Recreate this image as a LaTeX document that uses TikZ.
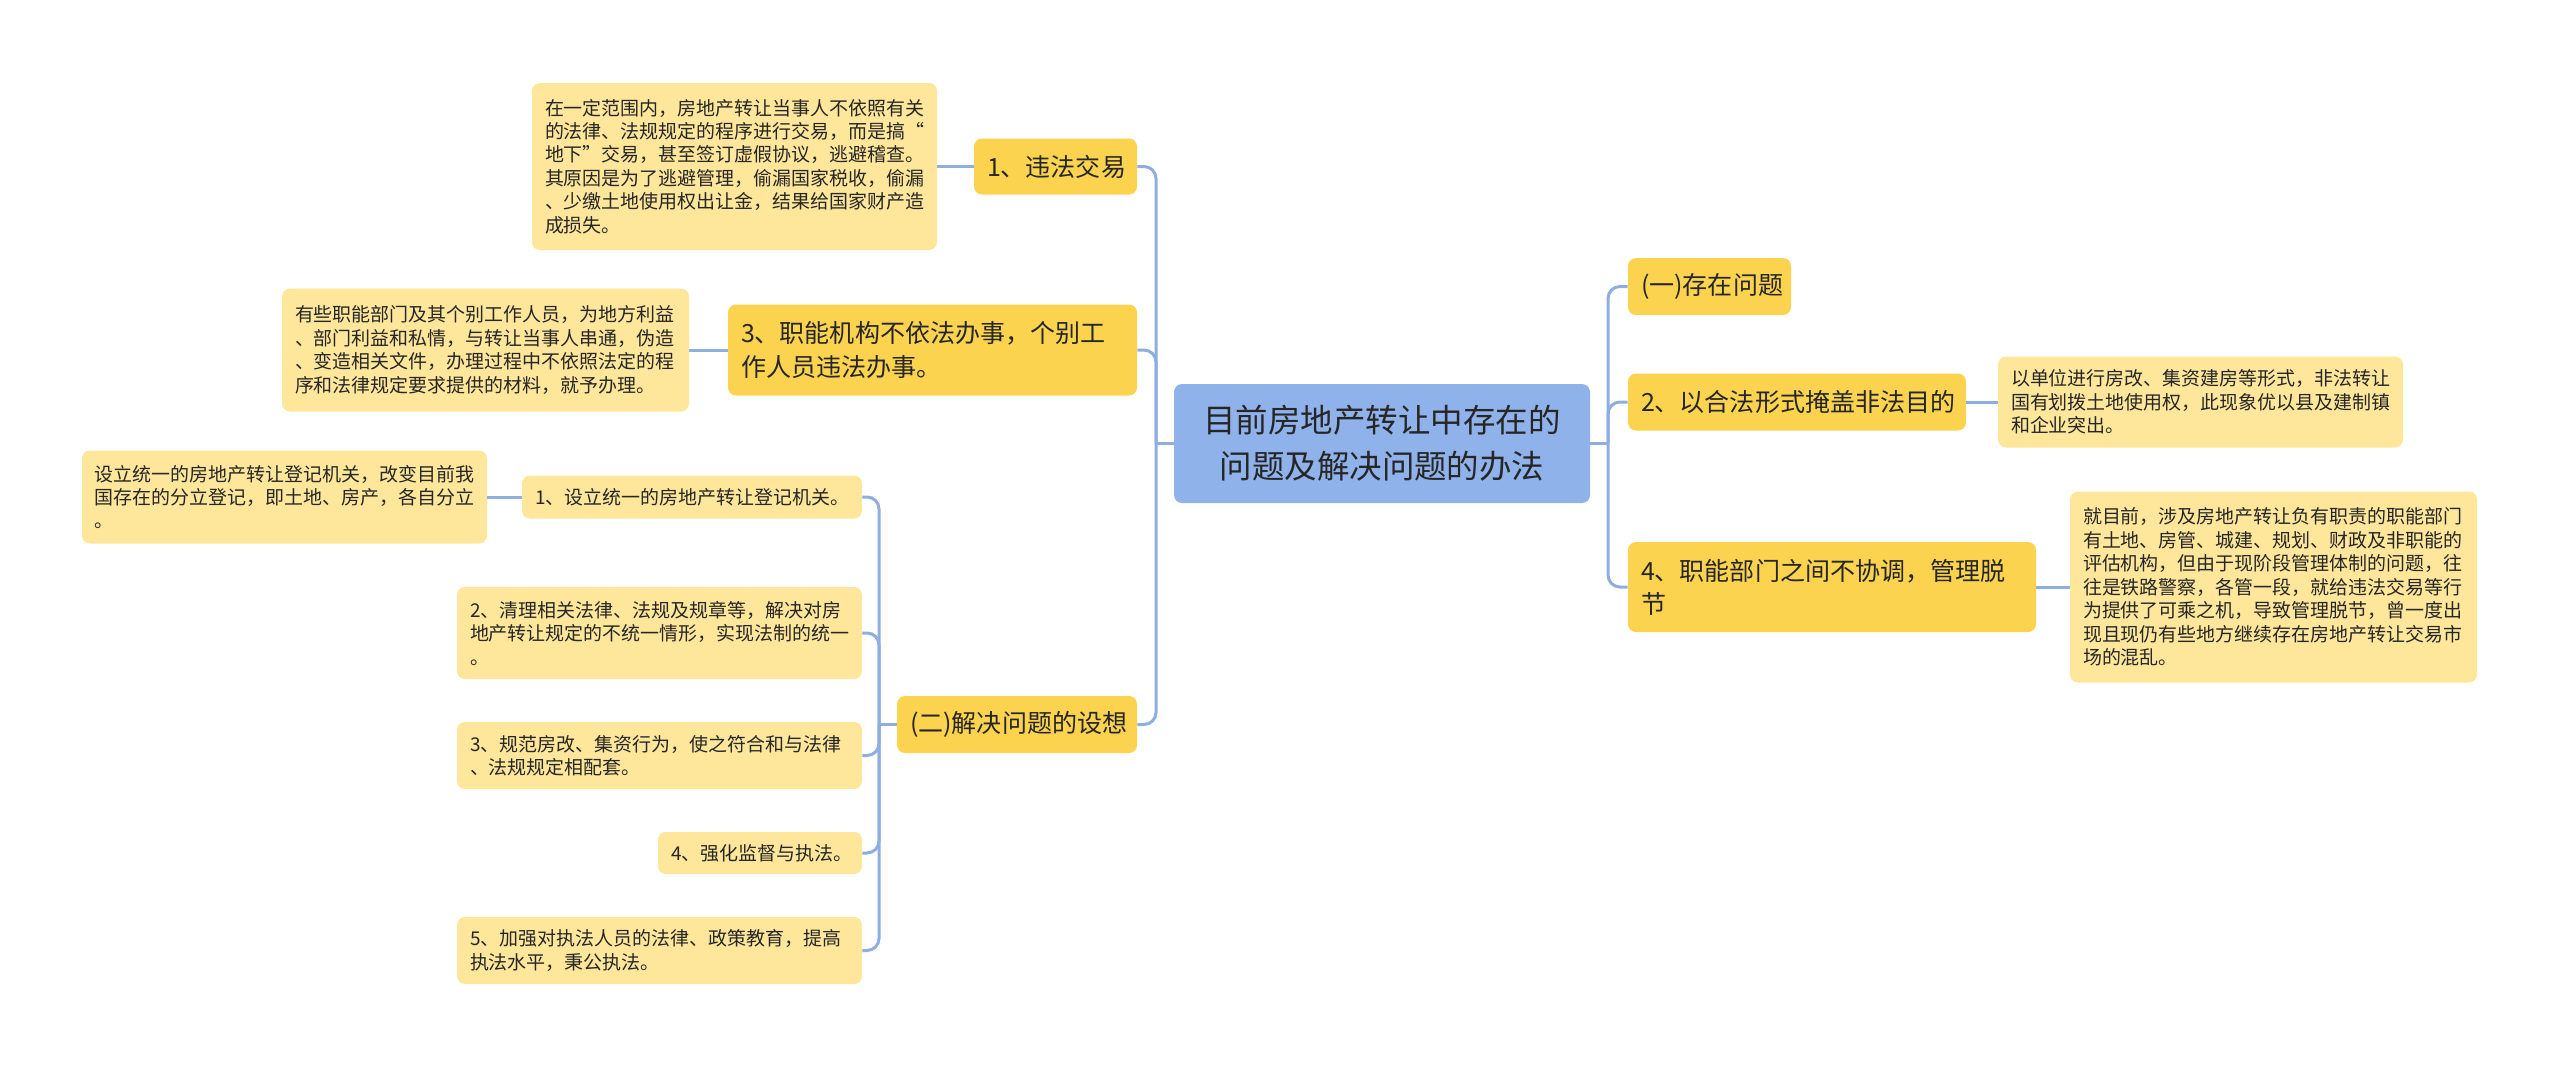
\documentclass[tikz,border=0pt]{standalone}
\usepackage{fontspec}
\setmainfont{Noto Sans CJK SC}
\usepackage{tikz}
\usetikzlibrary{calc}
\definecolor{rootblue}{HTML}{8FB2EA}
\definecolor{topicyellow}{HTML}{FCD34E}
\definecolor{notecream}{HTML}{FEE69A}
\definecolor{linkblue}{HTML}{8FAEE0}
\definecolor{inkgray}{HTML}{262626}
\newdimen\pxl \pxl=0.025cm
\tikzset{
    box/.style={rounded corners=8\pxl, align=left, inner xsep=0pt, inner ysep=2\pxl, text=inkgray},
    sz/.code 2 args={\pgfmathsetmacro\boxtw{(#1-26)*0.025}%
        \tikzset{text width=\boxtw cm, minimum width=#1\pxl, minimum height=#2\pxl}},
    rootbox/.style={box, fill=rootblue, align=center, font=\fontsize{23.1pt}{32.7pt}\selectfont},
    topic/.style={box, fill=topicyellow, font=\fontsize{17.8pt}{23.5pt}\selectfont},
    note/.style={box, fill=notecream, font=\fontsize{13.5pt}{16.7pt}\selectfont},
    link/.style={draw=linkblue, line width=3\pxl, rounded corners=12\pxl},
}
\begin{document}
\begin{tikzpicture}[x=0.025cm, y=-0.025cm]
        \useasboundingbox (0,0) rectangle (2560,1068);

        \node[rootbox, sz={416}{119}] (root) at (1382,443.5) {目前房地产转让中存在的\\问题及解决问题的办法};

        % right side
        \node[topic, sz={163}{57}] (q1) at (1709.5,286.5) {(一)存在问题};
        \node[topic, sz={338}{57}] (q2) at (1797,402) {2、以合法形式掩盖非法目的};
        \node[note, sz={405}{91}] (d2) at (2200.5,402) {以单位进行房改、集资建房等形式，非法转让\\国有划拨土地使用权，此现象优以县及建制镇\\和企业突出。};
        \node[topic, sz={408}{90}] (q4) at (1832,587) {4、职能部门之间不协调，管理脱\\节};
        \node[note, sz={407}{191}] (d4) at (2273.5,587) {就目前，涉及房地产转让负有职责的职能部门\\有土地、房管、城建、规划、财政及非职能的\\评估机构，但由于现阶段管理体制的问题，往\\往是铁路警察，各管一段，就给违法交易等行\\为提供了可乘之机，导致管理脱节，曾一度出\\现且现仍有些地方继续存在房地产转让交易市\\场的混乱。};

        % left side
        \node[topic, sz={163}{56}] (a1) at (1055.5,166.5) {1、违法交易};
        \node[note, sz={405}{167}] (da1) at (734.5,166.5) {在一定范围内，房地产转让当事人不依照有关\\的法律、法规规定的程序进行交易，而是搞“\\地下”交易，甚至签订虚假协议，逃避稽查。\\其原因是为了逃避管理，偷漏国家税收，偷漏\\、少缴土地使用权出让金，结果给国家财产造\\成损失。};
        \node[topic, sz={409}{91}] (a3) at (932.5,350) {3、职能机构不依法办事，个别工\\作人员违法办事。};
        \node[note, sz={407}{123}] (da3) at (485.5,350) {有些职能部门及其个别工作人员，为地方利益\\、部门利益和私情，与转让当事人串通，伪造\\、变造相关文件，办理过程中不依照法定的程\\序和法律规定要求提供的材料，就予办理。};
        \node[topic, sz={240}{57}] (a2) at (1017,724.5) {(二)解决问题的设想};

        \node[note, sz={340}{43}] (s1) at (692,497) {1、设立统一的房地产转让登记机关。};
        \node[note, sz={405}{93}] (ds1) at (284.5,497) {设立统一的房地产转让登记机关，改变目前我\\国存在的分立登记，即土地、房产，各自分立\\。};
        \node[note, sz={405}{92}] (s2) at (659.5,633) {2、清理相关法律、法规及规章等，解决对房\\地产转让规定的不统一情形，实现法制的统一\\。};
        \node[note, sz={405}{67}] (s3) at (659.5,755.5) {3、规范房改、集资行为，使之符合和与法律\\、法规规定相配套。};
        \node[note, sz={204}{42}] (s4) at (760,853) {4、强化监督与执法。};
        \node[note, sz={405}{67}] (s5) at (659.5,950.5) {5、加强对执法人员的法律、政策教育，提高\\执法水平，秉公执法。};

        % branches
        \coordinate (rj) at (1608,443.5);
        \draw[link] (root.east) -- (rj);
        \foreach \t in {q1,q2,q4}
            \draw[link] (rj) |- (\t.west);

        \coordinate (lj) at (1156,443.5);
        \draw[link] (root.west) -- (lj);
        \foreach \t in {a1,a3,a2}
            \draw[link] (lj) |- (\t.east);

        \coordinate (sj) at (879,724.5);
        \draw[link] (a2.west) -- (sj);
        \foreach \t in {s1,s2,s3,s4,s5}
            \draw[link] (sj) |- (\t.east);

        \draw[link] (a1.west) -- (da1.east);
        \draw[link] (a3.west) -- (da3.east);
        \draw[link] (s1.west) -- (ds1.east);
        \draw[link] (q2.east) -- (d2.west);
        \draw[link] (q4.east) -- (d4.west);
    \end{tikzpicture}
\end{document}
